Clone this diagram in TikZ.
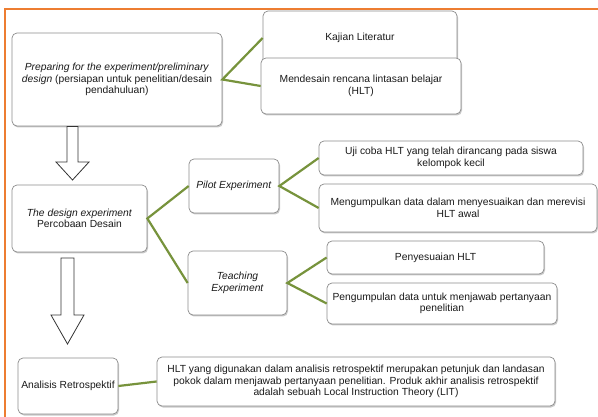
\documentclass[tikz,border=0pt]{standalone}
\usepackage{fontspec}
\setmainfont{Liberation Sans}
\usetikzlibrary{shadows}
\definecolor{frameorange}{HTML}{ED7D31}
\definecolor{linkgreen}{HTML}{77933C}
\definecolor{boxgray}{HTML}{8C8C8C}
\definecolor{txt}{HTML}{1A1A1A}
\tikzset{
  box/.style={draw=boxgray, line width=0.7pt, rounded corners=5pt, fill=white,
    inner sep=0pt, align=center, text=txt,
    font=\fontsize{10.3}{11.4}\selectfont,
    drop shadow={shadow xshift=1pt, shadow yshift=-1.5pt, opacity=0.35, fill=black!60}},
  link/.style={draw=linkgreen, line width=2.2pt},
  blockarrow/.style={draw=black!80, line width=0.8pt, fill=white, line join=miter},
  frameline/.style={draw=frameorange, line width=2pt}
}
\newcommand{\boxat}[6]{% name, x1, y1, x2, y2, text
  \node[box, minimum width={(#4-#2)*1pt}, minimum height={(#5-#3)*1pt}]
    (#1) at ({(#2+#4)/2},{(#3+#5)/2}) {#6};}
\begin{document}
\begin{tikzpicture}[x=1pt, y=-1pt]
\useasboundingbox (0,0) rectangle (598,417);
\fill[white] (0,0) rectangle (598,417);
% frame
\draw[frameline] (5,417) -- (5,9) -- (598,9);
% boxes
\boxat{prep}{12}{33}{222}{126}{\textit{Preparing for the experiment/preliminary}\\\textit{design} (persiapan untuk penelitian/desain\\pendahuluan)}
\boxat{kaj}{263}{11}{457}{65}{Kajian Literatur}
\boxat{mend}{261}{58}{461}{114}{Mendesain rencana lintasan belajar\\(HLT)}
\boxat{design}{12}{185}{147}{252}{\textit{The design experiment}\\Percobaan Desain}
\boxat{pilot}{189}{159}{279}{213}{\textit{Pilot Experiment}}
\boxat{teach}{188}{251}{287}{315}{\textit{Teaching}\\\textit{Experiment}}
\boxat{uji}{319}{141}{583}{175}{Uji coba HLT yang telah dirancang pada siswa\\kelompok kecil}
\boxat{meng}{319}{184}{597}{232}{Mengumpulkan data dalam menyesuaikan dan merevisi\\HLT awal}
\boxat{peny}{327}{241}{544}{274}{Penyesuaian HLT}
\boxat{pengum}{327}{283}{557}{324}{Pengumpulan data untuk menjawab pertanyaan\\penelitian}
\boxat{anal}{18}{358}{118}{414}{Analisis Retrospektif}
\boxat{hlt}{157}{357}{555}{406}{HLT yang digunakan dalam analisis retrospektif merupakan petunjuk dan landasan\\pokok dalam menjawab pertanyaan penelitian. Produk akhir analisis retrospektif\\adalah sebuah Local Instruction Theory (LIT)}
% connectors
\draw[link] (kaj.west) -- (prep.east) -- (mend.west);
\draw[link] (pilot.west) -- (design.east) -- (teach.west);
\draw[link] (uji.west) -- (pilot.east) -- (meng.west);
\draw[link] (peny.west) -- (teach.east) -- (pengum.west);
\draw[link] (anal.east) -- (hlt.west);
% block arrows
\draw[blockarrow] (67,126.5) -- (67,162) -- (56,162) -- (72.5,180) -- (89,162) -- (78,162) -- (78,126.5) -- cycle;
\draw[blockarrow] (61,258) -- (61,315) -- (51,315) -- (67.5,344) -- (84,315) -- (74,315) -- (74,258) -- cycle;
\end{tikzpicture}
\end{document}
